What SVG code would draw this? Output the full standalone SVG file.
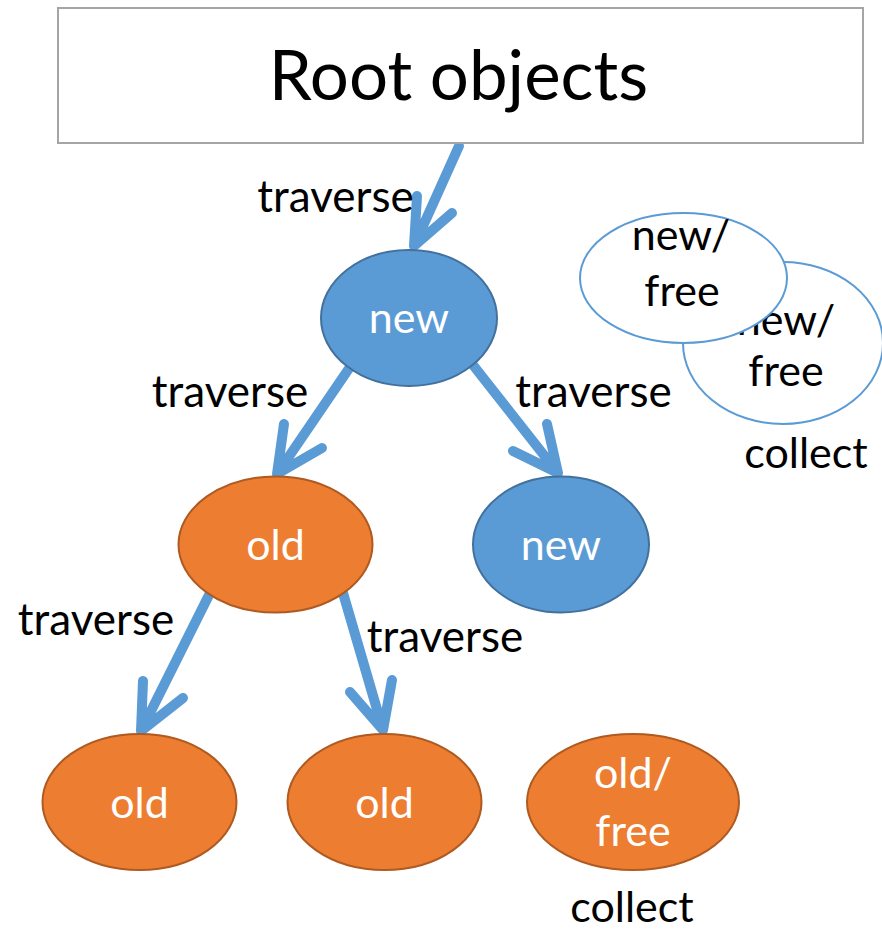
<svg xmlns="http://www.w3.org/2000/svg" width="882" height="932" viewBox="0 0 882 932">
<style>
text{font-family:Lato,"Open Sans","Liberation Sans",sans-serif;text-anchor:middle}
.lbl{font-size:44px;fill:#000}
.wt{font-size:43px;fill:#fff}
.bk{font-size:43px;fill:#000}
.blue{fill:#5b9bd5;stroke:#41719c;stroke-width:2}
.orange{fill:#ed7d31;stroke:#ae5a21;stroke-width:2}
.white{fill:#fff;stroke:#5b9bd5;stroke-width:2}
.arrow{fill:none;stroke:#5b9bd5;stroke-width:10;stroke-linecap:round;stroke-linejoin:round}
</style>
<rect width="882" height="932" fill="#fff"/>
<g id="connectors">
<path class="arrow" d="M459,146 L414,246 M417,196 L414,246 L452,213"/>
<path class="arrow" d="M350,367 L277,474 M284,424 L277,474 L322,448"/>
<path class="arrow" d="M473,365 L558,473 M547,424 L558,473 L513,451"/>
<path class="arrow" d="M210,593 L141,731 M143,681 L141,731 L183,698"/>
<path class="arrow" d="M343,593 L383,730 M392,680 L383,730 L350,692"/>
</g>
<g id="labels">
<text class="lbl" x="335.5" y="212">traverse</text>
<text class="lbl" x="230" y="407">traverse</text>
<text class="lbl" x="593.5" y="407">traverse</text>
<text class="lbl" x="96" y="635">traverse</text>
<text class="lbl" x="445" y="652">traverse</text>
</g>
<g id="root">
<rect x="58" y="8" width="805" height="135" fill="#fff" stroke="#a5a5a5" stroke-width="2"/>
<text x="458.5" y="100" style="font-size:69px;fill:#000">Root objects</text>
</g>
<g id="new1">
<ellipse class="blue" cx="409" cy="318" rx="88" ry="68"/>
<text class="wt" x="409" y="333">new</text>
</g>
<g id="old1">
<ellipse class="orange" cx="275.5" cy="544.5" rx="97" ry="68"/>
<text class="wt" x="275.5" y="560">old</text>
</g>
<g id="new2">
<ellipse class="blue" cx="561" cy="544.5" rx="88" ry="68"/>
<text class="wt" x="561" y="560">new</text>
</g>
<g id="old2">
<ellipse class="orange" cx="139.5" cy="802" rx="97" ry="68"/>
<text class="wt" x="139.5" y="818">old</text>
</g>
<g id="old3">
<ellipse class="orange" cx="384.5" cy="802" rx="97" ry="68"/>
<text class="wt" x="384.5" y="818">old</text>
</g>
<g id="oldfree">
<ellipse class="orange" cx="633" cy="802" rx="106" ry="68"/>
<text class="wt" x="633" y="788">old/</text>
<text class="wt" x="633" y="846">free</text>
<text class="bk" x="632" y="922">collect</text>
</g>
<g id="newfree2">
<ellipse class="white" cx="783" cy="343" rx="100" ry="81"/>
<text class="bk" x="786" y="335">new/</text>
<text class="bk" x="786" y="386">free</text>
<text class="bk" x="806" y="468">collect</text>
</g>
<g id="newfree1">
<ellipse class="white" cx="683.5" cy="278" rx="103.5" ry="65"/>
<text class="bk" x="681" y="250">new/</text>
<text class="bk" x="682" y="306">free</text>
</g>
</svg>
